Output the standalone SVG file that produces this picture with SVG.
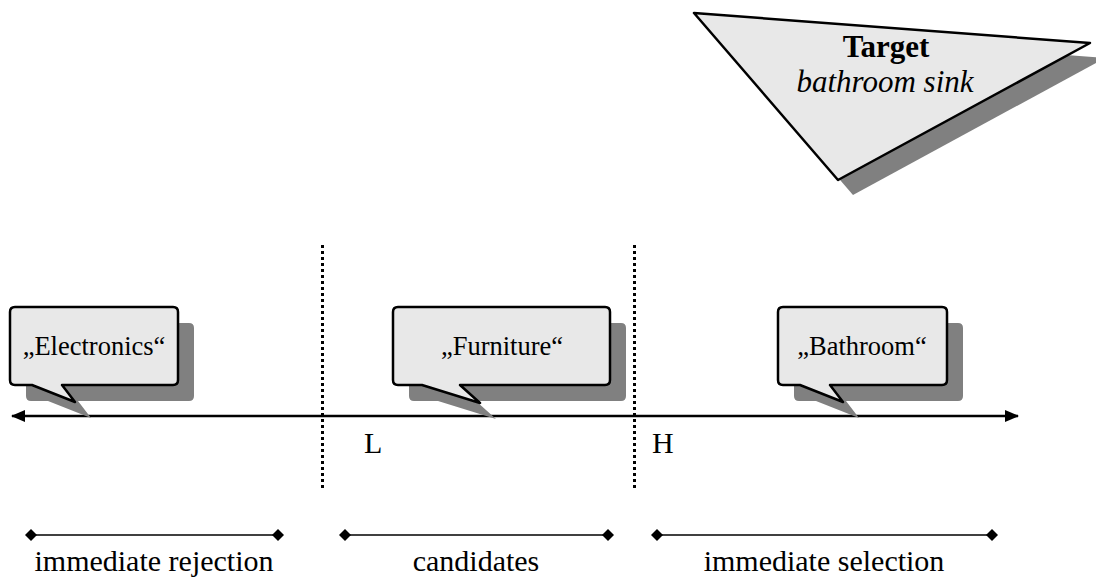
<svg xmlns="http://www.w3.org/2000/svg" width="1096" height="579" viewBox="0 0 1096 579">
<style>
.shape{fill:#e8e8e8;stroke:#000;stroke-width:2.5;stroke-linejoin:round}
.shadow{fill:#808080;stroke:none}
.t{font-family:"Liberation Serif","Times New Roman",serif;fill:#000}
.bub{font-size:26.5px;text-anchor:middle}
.lab{font-size:30px;text-anchor:middle}
.axis{stroke:#000;stroke-width:2.5;fill:none}
.dot{stroke:#000;stroke-width:3;stroke-dasharray:3 3;fill:none}
.range{stroke:#000;stroke-width:1.5;fill:none}
</style>
<defs>
<marker id="arr" viewBox="0 0 14 12" refX="13" refY="6" markerWidth="14" markerHeight="12" markerUnits="userSpaceOnUse" orient="auto-start-reverse">
<path d="M0,0 L14,6 L0,12 Z" fill="#000"/>
</marker>
<marker id="dia" viewBox="0 0 12 12" refX="6" refY="6" markerWidth="12" markerHeight="12" markerUnits="userSpaceOnUse" orient="auto">
<path d="M6,0 L12,6 L6,12 L0,6 Z" fill="#000"/>
</marker>
</defs>

<g id="target">
<polygon class="shadow" points="709,28 1105,58 853,195"/>
<polygon class="shape" points="694,13 1090,43 838,180"/>
<text class="t" x="886" y="57" font-size="31" font-weight="bold" text-anchor="middle">Target</text>
<text class="t" x="885" y="92" font-size="31" font-style="italic" text-anchor="middle">bathroom sink</text>
</g>

<g id="connectors">
<line class="axis" x1="12" y1="416" x2="1018" y2="416" marker-start="url(#arr)" marker-end="url(#arr)"/>
<line class="dot" x1="322.5" y1="245" x2="322.5" y2="488"/>
<line class="dot" x1="634.5" y1="245" x2="634.5" y2="488"/>
<line class="range" x1="31" y1="535" x2="278" y2="535" marker-start="url(#dia)" marker-end="url(#dia)"/>
<line class="range" x1="345" y1="535" x2="608" y2="535" marker-start="url(#dia)" marker-end="url(#dia)"/>
<line class="range" x1="657" y1="535" x2="992" y2="535" marker-start="url(#dia)" marker-end="url(#dia)"/>
</g>

<g id="electronics">
<path class="shadow" d="M31,323 H189 Q194,323 194,328 V396 Q194,401 189,401 H78 L91,418 L48,401 H31 Q26,401 26,396 V328 Q26,323 31,323 Z"/>
<path class="shape" d="M15,307 H173 Q178,307 178,312 V380 Q178,385 173,385 H62 L75,402 L32,385 H15 Q10,385 10,380 V312 Q10,307 15,307 Z"/>
<text class="t bub" x="94" y="355">„Electronics“</text>
</g>

<g id="furniture">
<path class="shadow" d="M414,323 H621 Q626,323 626,328 V396 Q626,401 621,401 H476 L496,419 L438,401 H414 Q409,401 409,396 V328 Q409,323 414,323 Z"/>
<path class="shape" d="M398,307 H605 Q610,307 610,312 V380 Q610,385 605,385 H460 L480,403 L422,385 H398 Q393,385 393,380 V312 Q393,307 398,307 Z"/>
<text class="t bub" x="502" y="355">„Furniture“</text>
</g>

<g id="bathroom">
<path class="shadow" d="M799,323 H958 Q963,323 963,328 V396 Q963,401 958,401 H846 L859,418 L816,401 H799 Q794,401 794,396 V328 Q794,323 799,323 Z"/>
<path class="shape" d="M783,307 H942 Q947,307 947,312 V380 Q947,385 942,385 H830 L843,402 L800,385 H783 Q778,385 778,380 V312 Q778,307 783,307 Z"/>
<text class="t bub" x="862" y="355">„Bathroom“</text>
</g>

<g id="thresholds">
<text class="t" x="364" y="453" font-size="30">L</text>
<text class="t" x="652" y="453" font-size="30">H</text>
</g>

<g id="labels">
<text class="t lab" x="154" y="571">immediate rejection</text>
<text class="t lab" x="476" y="571">candidates</text>
<text class="t lab" x="824" y="571">immediate selection</text>
</g>
</svg>
